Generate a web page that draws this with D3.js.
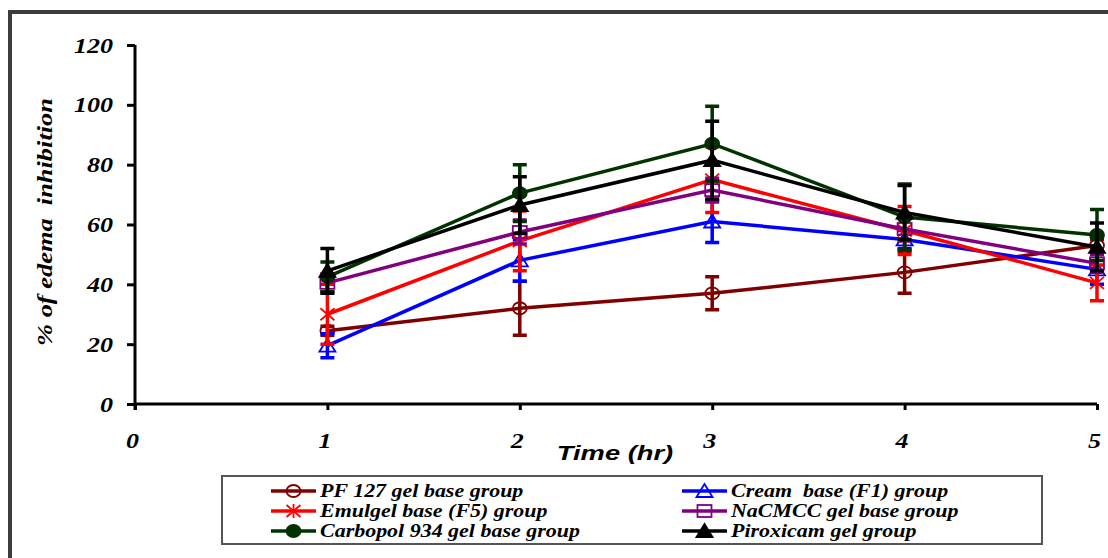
<!DOCTYPE html>
<html><head><meta charset="utf-8">
<script src="https://cdn.jsdelivr.net/npm/d3@7"></script>
<style>body{margin:0;background:#fff;overflow:hidden}</style>
</head><body><svg id="c" width="1108" height="558"></svg>
<script>
const times = [1, 2, 3, 4, 5];
const xTicks = [0, 1, 2, 3, 4, 5];
const yTicks = [0, 20, 40, 60, 80, 100, 120];
const seriesNames = ["PF 127 gel base group", "Cream  base (F1) group", "Emulgel base (F5) group",
  "NaCMCC gel base group", "Carbopol 934 gel base group", "Piroxicam gel group"];
const pf127 = [24.5, 32, 37, 44, 53];
const pf127Err = [1.5, 9, 5.5, 7, 2];
const cream = [19.5, 48, 61, 55, 45];
const creamErr = [4, 7, 7, 3, 5];
const emulgel = [30, 54.5, 75, 58, 40.5];
const emulgelErr = [10, 10, 11, 8, 6];
const nacmcc = [40.5, 57.5, 71.5, 58.5, 47];
const nacmccErr = [3, 4, 4, 4, 3];
const carbopol = [42.5, 70.5, 87, 62.5, 56.5];
const carbopolErr = [5, 9.5, 12.5, 11, 8.5];
const piroxicam = [44.5, 66.5, 81.5, 64, 52.5];
const piroxicamErr = [7.5, 9.5, 13, 9, 8];
const xTitle = "Time (hr)";
const yTitle = "% of edema  inhibition";

const series = [
  {name: seriesNames[0], values: pf127, err: pf127Err, color: "#800000", marker: "circleOpen"},
  {name: seriesNames[1], values: cream, err: creamErr, color: "#0000ff", marker: "triangleOpen"},
  {name: seriesNames[2], values: emulgel, err: emulgelErr, color: "#ff0000", marker: "asterisk"},
  {name: seriesNames[3], values: nacmcc, err: nacmccErr, color: "#800080", marker: "squareOpen"},
  {name: seriesNames[4], values: carbopol, err: carbopolErr, color: "#003300", marker: "circleFilled"},
  {name: seriesNames[5], values: piroxicam, err: piroxicamErr, color: "#000000", marker: "triangleFilled"}
];

const svg = d3.select("#c");
const STRETCH = 1.3;
function stretch(sel, k) {
  sel.each(function () {
    const len = this.getComputedTextLength();
    d3.select(this).attr("textLength", len * k).attr("lengthAdjust", "spacingAndGlyphs");
  });
}

// frame
svg.append("rect").attr("x", 10).attr("y", 12).attr("width", 1200).attr("height", 700)
  .attr("fill", "none").attr("stroke", "#3c3c3c").attr("stroke-width", 4);

const x = d3.scaleLinear().domain([0, 5]).range([135, 1097]);
const y = d3.scaleLinear().domain([0, 120]).range([404, 45]);

// y axis
const yAx = svg.append("g").attr("transform", `translate(${x(0)},0)`)
  .call(d3.axisLeft(y).tickValues(yTicks).tickSize(8).tickSizeOuter(0).tickFormat(d3.format("d")));
yAx.select(".domain").attr("stroke", "#000").attr("stroke-width", 3).attr("d", `M0,${y(120)}V${y(0)+6}`);
yAx.selectAll(".tick line").attr("stroke", "#000").attr("stroke-width", 3);
yAx.selectAll(".tick text").attr("x", -22).attr("dy", "0.35em")
  .attr("font-family", "'Liberation Serif', 'Times New Roman', serif")
  .attr("font-weight", "bold").attr("font-style", "italic").attr("font-size", 20).attr("fill", "#000");
stretch(yAx.selectAll(".tick text"), STRETCH);

// x axis
const xAx = svg.append("g").attr("transform", `translate(0,${y(0)})`)
  .call(d3.axisBottom(x).tickValues(xTicks).tickSize(6).tickSizeOuter(0).tickFormat(d3.format("d")));
xAx.select(".domain").attr("stroke", "#000").attr("stroke-width", 3).attr("d", `M${x(0)},0H${x(5)}`);
xAx.selectAll(".tick line").attr("stroke", "#000").attr("stroke-width", 3);
xAx.selectAll(".tick text").attr("y", 0).attr("dy", 44).attr("dx", -3)
  .attr("font-family", "'Liberation Serif', 'Times New Roman', serif")
  .attr("font-weight", "bold").attr("font-style", "italic").attr("font-size", 20).attr("fill", "#000");
stretch(xAx.selectAll(".tick text"), STRETCH);

// titles
const xt = svg.append("text").attr("x", 615).attr("y", 460).attr("text-anchor", "middle")
  .attr("font-family", "'Liberation Sans', Arial, sans-serif").attr("font-weight", "bold")
  .attr("font-style", "italic").attr("font-size", 21).text(xTitle);
stretch(xt, STRETCH);
const yt = svg.append("text").attr("transform", "translate(52,222) rotate(-90)").attr("text-anchor", "middle")
  .style("white-space", "pre")
  .attr("font-family", "'Liberation Serif', 'Times New Roman', serif").attr("font-weight", "bold")
  .attr("font-style", "italic").attr("font-size", 22).text(yTitle);
stretch(yt, 1.2);

function drawMarker(g, type, color, cx, cy) {
  const sw = 1.8;
  if (type === "circleOpen" || type === "circleFilled") {
    g.append("ellipse").attr("cx", cx).attr("cy", cy).attr("rx", 7).attr("ry", 6)
      .attr("fill", type === "circleFilled" ? color : "none").attr("stroke", color).attr("stroke-width", sw);
  } else if (type === "triangleOpen" || type === "triangleFilled") {
    g.append("path").attr("d", `M${cx},${cy-7}L${cx+8},${cy+6}L${cx-8},${cy+6}Z`)
      .attr("fill", type === "triangleFilled" ? color : "none").attr("stroke", color).attr("stroke-width", sw);
  } else if (type === "squareOpen") {
    g.append("rect").attr("x", cx - 7).attr("y", cy - 6).attr("width", 14).attr("height", 12)
      .attr("fill", "none").attr("stroke", color).attr("stroke-width", sw);
  } else if (type === "asterisk") {
    g.append("path").attr("d", `M${cx-7},${cy-6}L${cx+7},${cy+6}M${cx-7},${cy+6}L${cx+7},${cy-6}M${cx},${cy-7}V${cy+7}`)
      .attr("stroke", color).attr("stroke-width", sw).attr("fill", "none");
  }
}

const line = d3.line().x((d, i) => x(times[i])).y(d => y(d));
const plot = svg.append("g");
series.forEach(s => {
  const g = plot.append("g");
  s.values.forEach((v, i) => {
    const cx = x(times[i]);
    g.append("path")
      .attr("d", `M${cx},${y(v + s.err[i])}V${y(v - s.err[i])}M${cx-7},${y(v + s.err[i])}H${cx+7}M${cx-7},${y(v - s.err[i])}H${cx+7}`)
      .attr("stroke", s.color).attr("stroke-width", 3.5).attr("fill", "none");
  });
  g.append("path").datum(s.values).attr("d", line).attr("fill", "none")
    .attr("stroke", s.color).attr("stroke-width", 3.5);
  s.values.forEach((v, i) => drawMarker(g, s.marker, s.color, x(times[i]), y(v)));
});

// legend
const lg = svg.append("g");
lg.append("rect").attr("x", 222).attr("y", 476).attr("width", 820).attr("height", 68)
  .attr("fill", "#fff").attr("stroke", "#555").attr("stroke-width", 2);
series.forEach((s, i) => {
  const col = i % 2, row = Math.floor(i / 2);
  const lx = col === 0 ? 271 : 682;
  const ly = 491 + row * 20;
  lg.append("line").attr("x1", lx).attr("x2", lx + 45).attr("y1", ly).attr("y2", ly)
    .attr("stroke", s.color).attr("stroke-width", 3.5);
  drawMarker(lg, s.marker, s.color, lx + 22.5, ly);
  const t = lg.append("text").attr("x", lx + 49).attr("y", ly + 6).style("white-space", "pre")
    .attr("font-family", "'Liberation Serif', 'Times New Roman', serif").attr("font-weight", "bold")
    .attr("font-style", "italic").attr("font-size", 18).text(s.name);
  stretch(t, 1.22);
});
</script></body></html>
